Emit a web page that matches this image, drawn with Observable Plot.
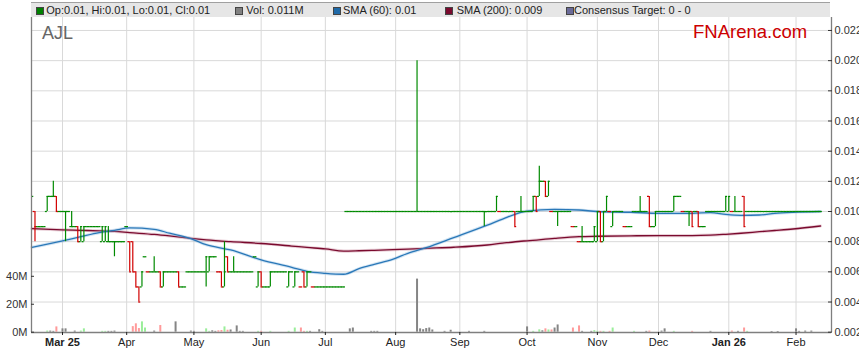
<!DOCTYPE html>
<html><head><meta charset="utf-8">
<script src="https://cdn.jsdelivr.net/npm/d3@7"></script>
<script src="https://cdn.jsdelivr.net/npm/@observablehq/plot@0.6"></script>
<style>
body{margin:0;background:#fff;font-family:Arial,"Liberation Sans",sans-serif;}
#wrap{position:relative;width:859px;height:363px;overflow:hidden;}
#chart{position:absolute;left:0;top:0;}
#legend{position:absolute;left:31px;top:2px;width:799px;height:15px;background:#e6e6e6;border-top:1px solid #a0a0a0;box-sizing:border-box;}
.sq{position:absolute;top:4px;width:6px;height:6px;border:1px solid #444;}
.lt{position:absolute;top:2px;font-size:11px;line-height:11px;color:#222;white-space:nowrap;}
#code{position:absolute;left:42px;top:24px;font-size:18px;line-height:18px;color:#666;}
#brand{position:absolute;left:693px;top:23px;font-size:18.5px;line-height:18.5px;color:#cc0000;}
</style></head><body>
<div id="wrap">
  <div id="chart"></div>
  <div id="legend"></div>
  <div id="code"></div>
  <div id="brand"></div>
</div>
<script>
// ---- data (prices in thousandths of a dollar; day index = trading days from 3 Mar 2025) ----
const ticker = "AJL";
const brand = "FNArena.com";
const legendItems = ["Op:0.01, Hi:0.01, Lo:0.01, Cl:0.01", "Vol: 0.011M", "SMA (60): 0.01", "SMA (200): 0.009", "Consensus Target: 0 - 0"];
const legendColors = ["#008000", "#808080", "#1f6aa8", "#7a0a2e", "#6b6b99"];
const firstDay = -10;
const open = [
 11,10,9,9,9,10,11,11,11,10,
 10,10,10,9,9,9,8,8,9,9,
 9,9,9,8,8,8,8,8,8,8,
 8,9,8,8,6,5,5,7,6,6,
 6,6,6,5,6,6,6,6,6,5,
 5,6,6,6,6,6,6,6,6,7,
 7,6,6,5,7,6,6,6,6,6,
 6,6,6,7,5,6,5,5,5,6,
 6,6,6,6,5,6,5,6,5,6,
 5,6,5,5,5,5,5,5,5,5,
 5,5,5,10,10,10,10,10,10,10,
 10,10,10,10,10,10,10,10,10,10,
 10,10,10,10,10,10,10,10,10,10,
 10,10,10,10,10,10,10,10,10,10,
 10,10,10,10,10,10,10,10,10,10,
 10,10,10,10,10,10,10,10,10,10,
 10,10,10,10,10,11,11,12,12,11,
 10,10,10,10,10,10,10,9,9,8,
 8,8,8,8,8,8,10,8,10,10,
 9,10,10,10,9,9,9,10,10,10,
 10,10,11,9,9,10,10,10,10,10,
 10,11,11,10,10,10,10,10,10,9,
 9,10,10,10,10,10,10,10,10,10,
 10,10,10,11,10,10,10,10,10,10,
 10,10,10,10,10,10,10,10,10,10,10,10,10,10,10,10,10,10,10];
const high = [
 11,10,9,9,9,11,11,12,11,10,
 10,10,10,10,9,9,9,9,9,9,
 9,9,9,9,9,9,8,8,8,8,
 8,9,8,8,6,5,6,7,6,6,
 7,6,6,6,6,6,6,6,6,5,
 5,6,6,6,6,6,6,7,7,7,
 7,6,6,8,7,6,7,6,6,6,
 6,6,6,7,6,6,5,5,6,6,
 6,6,6,6,6,6,6,6,5,6,
 6,6,5,5,5,5,5,5,5,5,
 5,5,5,10,10,10,10,10,10,10,
 10,10,10,10,10,10,10,10,10,10,
 10,10,10,10,10,10,20,10,10,10,
 10,10,10,10,10,10,10,10,10,10,
 10,10,10,10,10,10,10,10,10,10,
 10,10,11,10,10,10,10,10,10,10,
 11,10,10,10,11,11,13,12,12,12,
 10,10,10,10,10,10,10,9,9,8,
 9,8,8,8,9,10,10,10,11,10,
 10,10,10,10,9,9,9,10,10,11,
 10,10,11,9,10,10,10,10,10,10,
 11,11,11,10,10,10,10,10,10,9,
 9,10,10,10,10,10,10,11,11,10,
 11,10,10,11,10,10,10,10,10,10,
 10,10,10,10,10,10,10,10,10,10,10,10,10,10,10,10,10,10,10];
const low = [
 11,8,9,9,9,10,11,11,10,10,
 10,8,10,9,9,8,8,8,9,9,
 9,9,9,8,8,8,8,7,8,8,
 8,9,6,6,5,4,5,7,6,6,
 6,6,5,5,6,6,6,6,5,5,
 5,6,6,6,6,6,6,5,6,7,
 7,6,5,5,6,6,6,6,6,6,
 6,6,6,7,5,5,5,5,5,6,
 6,6,6,6,5,6,5,6,5,5,
 5,6,5,5,5,5,5,5,5,5,
 5,5,5,10,10,10,10,10,10,10,
 10,10,10,10,10,10,10,10,10,10,
 10,10,10,10,10,10,10,10,10,10,
 10,10,10,10,10,10,10,10,10,10,
 10,10,10,10,10,10,10,10,9,10,
 10,10,10,10,10,10,10,10,9,10,
 10,10,10,10,10,10,11,12,11,11,
 10,10,9,10,10,10,10,9,9,8,
 8,8,8,8,8,8,8,8,10,10,
 9,10,10,10,9,9,9,10,10,10,
 10,10,9,9,9,10,10,10,10,10,
 10,11,11,10,10,9,9,10,9,9,
 9,10,10,10,10,10,10,10,10,10,
 10,10,10,9,10,10,10,10,10,10,
 10,10,10,10,10,10,10,10,10,10,10,10,10,10,10,10,10,10,10];
const close = [
 11,9,9,9,9,11,11,11,10,10,
 10,10,10,9,9,8,9,9,9,9,
 9,9,9,9,9,8,8,8,8,8,
 8,9,6,6,5,4,6,7,6,6,
 6,6,5,6,6,6,6,6,5,5,
 5,6,6,6,6,6,6,7,7,7,
 7,6,5,6,6,6,6,6,6,6,
 6,6,6,7,6,5,5,5,6,6,
 6,6,6,6,6,6,6,6,5,5,
 6,6,5,5,5,5,5,5,5,5,
 5,5,5,10,10,10,10,10,10,10,
 10,10,10,10,10,10,10,10,10,10,
 10,10,10,10,10,10,10,10,10,10,
 10,10,10,10,10,10,10,10,10,10,
 10,10,10,10,10,10,10,10,10,10,
 10,10,11,10,10,10,10,10,9,10,
 10,10,10,10,11,10,12,12,11,12,
 10,10,10,10,10,10,10,9,9,8,
 8,8,8,8,9,10,8,10,11,10,
 10,10,10,10,9,9,9,10,10,10,
 10,10,9,9,10,10,10,10,10,10,
 11,11,11,10,10,10,9,10,9,9,
 9,10,10,10,10,10,10,11,11,10,
 10,10,10,9,10,10,10,10,10,10,
 10,10,10,10,10,10,10,10,10,10,10,10,10,10,10,10,10,10,10];
const volDays = [-5,-4,-3,-2,0,1,4,6,7,13, 14,15,16,17,23,24,25,26,27,30, 32,37,42,43,47,48,49,50,51,52,
 53,54,55,57,58,59,64,65,68,74, 76,78,79,80,81,84,85,94,95,101, 102,103,116,117,118,119,120,121,125,127,
 133,138,152,154,156,157,158,159,160,161, 162,167,169,170,173,174,175,176,177,179,
 180,187,191,192,196,197,200,206,212,219, 221,223,224,232,234,240,241,243,245];
const volM = [0.8,0.8,0.6,3.8,2.4,2.4,0.8,0.8,2.4,0.6, 0.6,0.6,0.6,0.8,4.0,6.0,2.6,7.4,3.0,0.8, 4.8,7.4,0.8,0.6,2.4,0.6,1.0,0.6,1.0,1.2,
 3.8,1.4,1.6,4.5,0.6,0.6,0.6,0.6,0.6,0.6, 3.0,3.0,0.6,0.6,0.6,1.8,0.6,2.4,3.0,0.6, 0.6,0.6,38,2.4,1.8,2.6,3.0,1.6,0.6,1.4,
 0.6,0.6,3.8,0.6,1.7,1.0,2.4,1.6,1.6,3.0, 5.2,3.0,4.5,0.6,0.6,1.1,0.6,0.6,0.6,0.6,
 3.0,0.6,0.6,0.8,0.8,2.4,0.6,0.6,0.6,0.8, 0.6,3.0,0.6,0.5,0.5,2.4,0.6,0.8,0.8];
const smaDays = [-10,0,6,12,17,22,30,35,42,47, 55,65,75,80,86,92,97,102,108,113, 119,128,139,144,150,152,161,169,175,186, 195,206,212,217,222,228,233,239,248];
const sma60 = [7.63,8.05,8.33,8.6,8.75,8.91,8.82,8.56,8.2,7.8, 7.45,6.79,6.3,6.03,5.9,5.84,6.21,6.5,6.83,7.23, 7.6,8.27,9.1,9.5,9.95,10.03,10.14,10.1,10.0,9.95, 9.88,9.88,9.93,9.81,9.75,9.77,9.88,9.95,10.0];
const sma200 = [8.86,8.78,8.75,8.72,8.68,8.6,8.48,8.38,8.22,8.12, 8.0,7.88,7.71,7.62,7.52,7.38,7.4,7.43,7.47,7.51, 7.56,7.63,7.78,7.9,8.03,8.06,8.22,8.33,8.36,8.39, 8.4,8.4,8.43,8.49,8.56,8.66,8.74,8.84,9.04];
const monthIdx = [0,21,43,65,86,109,130,152,175,195,218,240];
const monthLabels = ["Mar 25","Apr","May","Jun","Jul","Aug","Sep","Oct","Nov","Dec","Jan 26","Feb"];
const priceTicks = [0.002,0.004,0.006,0.008,0.010,0.012,0.014,0.016,0.018,0.020,0.022];
const volTicks = [0,20,40];

// ---- build ----
const P = v => v / 1000;
const VOL_UNIT = 1.4 / 15115;          // 1M of volume expressed in price units (20M = 28px)
const volY = m => 0.002 + m * VOL_UNIT;
const xDom = [-10.14, 251.6], yDom = [0.00198, 0.02286];
const RED = "#d20000", GREEN = "#008a00";
const days = open.map((o, k) => ({i: k + firstDay, o, h: high[k], l: low[k], c: close[k], pc: k ? close[k - 1] : close[k]}));
days.forEach(d => {
  d.down = d.c < d.o || (d.h === d.l && d.c < d.pc);
  d.up = !d.down && (d.c > d.pc || d.c > d.o);
  d.col = d.down ? RED : GREEN;
});
const byDay = new Map(days.map(d => [d.i, d]));
const vols = volDays.map((i, k) => {
  const d = byDay.get(i);
  return {i, v: volY(volM[k]), col: d && d.down ? "#ff9a9a" : d && d.up ? "#9aee9a" : "#858585"};
});
const s60 = smaDays.map((i, k) => ({i, v: P(sma60[k])}));
const s200 = smaDays.map((i, k) => ({i, v: P(sma200[k])}));
const labelOf = new Map(monthIdx.map((d, k) => [d, monthLabels[k]]));
const boldIdx = monthIdx.filter((d, k) => monthLabels[k].includes(" "));
const normIdx = monthIdx.filter((d, k) => !monthLabels[k].includes(" "));
const HALF = 0.6; // tick half-width in days (slight overlap so flat runs read as solid lines)

const chart = Plot.plot({
  width: 859, height: 363,
  marginTop: 17, marginBottom: 31, marginLeft: 31, marginRight: 28,
  x: {type: "linear", domain: xDom, axis: null, label: null},
  y: {type: "linear", domain: yDom, axis: null, label: null},
  color: {type: "identity"},
  style: {fontFamily: "Arial, 'Liberation Sans', sans-serif", fontSize: "11px", color: "#222", background: "transparent", overflow: "visible"},
  marks: [
    Plot.ruleY(priceTicks.slice(1), {stroke: "#d9d9d9", strokeWidth: 1}),
    Plot.ruleX(monthIdx, {stroke: "#d9d9d9", strokeWidth: 1}),
    Plot.ruleX(vols, {x: "i", y1: volY(0), y2: "v", stroke: "col", strokeWidth: 2}),
    Plot.line(s200, {x: "i", y: "v", stroke: "#c07890", strokeWidth: 3.2, strokeOpacity: 0.35, curve: "monotone-x"}),
    Plot.line(s200, {x: "i", y: "v", stroke: "#7a0a2e", strokeWidth: 1.3, curve: "monotone-x"}),
    Plot.line(s60, {x: "i", y: "v", stroke: "#7fb2dc", strokeWidth: 3.2, strokeOpacity: 0.35, curve: "monotone-x"}),
    Plot.line(s60, {x: "i", y: "v", stroke: "#2a78b8", strokeWidth: 1.3, curve: "monotone-x"}),
    Plot.ruleX(days.filter(d => d.h > d.l), {x: "i", y1: d => P(d.l), y2: d => P(d.h), stroke: "col", strokeWidth: 1.2, clip: true}),
    Plot.ruleY(days, {y: d => P(d.o), x1: d => d.i - HALF, x2: d => d.i + 0.05, stroke: "col", strokeWidth: 1.25, clip: true}),
    Plot.ruleY(days, {y: d => P(d.c), x1: d => d.i - 0.05, x2: d => d.i + HALF, stroke: "col", strokeWidth: 1.25, clip: true}),
    Plot.ruleX(xDom, {stroke: "#7f7f7f", strokeWidth: 1.3}),
    Plot.ruleY([yDom[0]], {stroke: "#7f7f7f", strokeWidth: 1.3}),
    Plot.axisY(priceTicks, {anchor: "right", tickSize: -4, tickPadding: 7, tickFormat: d3.format(".3f"), fontSize: 11, color: "#333", label: null}),
    Plot.axisY(volTicks.map(volY), {anchor: "left", tickSize: -3, tickPadding: 7, tickFormat: d => Math.round((d - 0.002) / VOL_UNIT) + "M", fontSize: 11, color: "#333", label: null}),
    Plot.axisX(normIdx, {anchor: "bottom", tickSize: 3, tickPadding: 3, tickFormat: d => labelOf.get(d), fontSize: 11, color: "#222", label: null}),
    Plot.axisX(boldIdx, {anchor: "bottom", tickSize: 3, tickPadding: 3, tickFormat: d => labelOf.get(d), fontSize: 11, fontWeight: "bold", color: "#222", label: null})
  ]
});
document.getElementById("chart").appendChild(chart);

// legend and titles (text)
const sqLeft = [4.7, 204.3, 302.3, 414, 535];
const txtLeft = [15.3, 215.3, 312, 425.7, 543];
const lg = document.getElementById("legend");
legendItems.forEach((t, k) => {
  const s = document.createElement("span"); s.className = "sq"; s.style.left = sqLeft[k] + "px"; s.style.background = legendColors[k]; lg.appendChild(s);
  const l = document.createElement("span"); l.className = "lt"; l.style.left = txtLeft[k] + "px"; l.textContent = t; lg.appendChild(l);
});
document.getElementById("code").textContent = ticker;
document.getElementById("brand").textContent = brand;
</script>
</body></html>
